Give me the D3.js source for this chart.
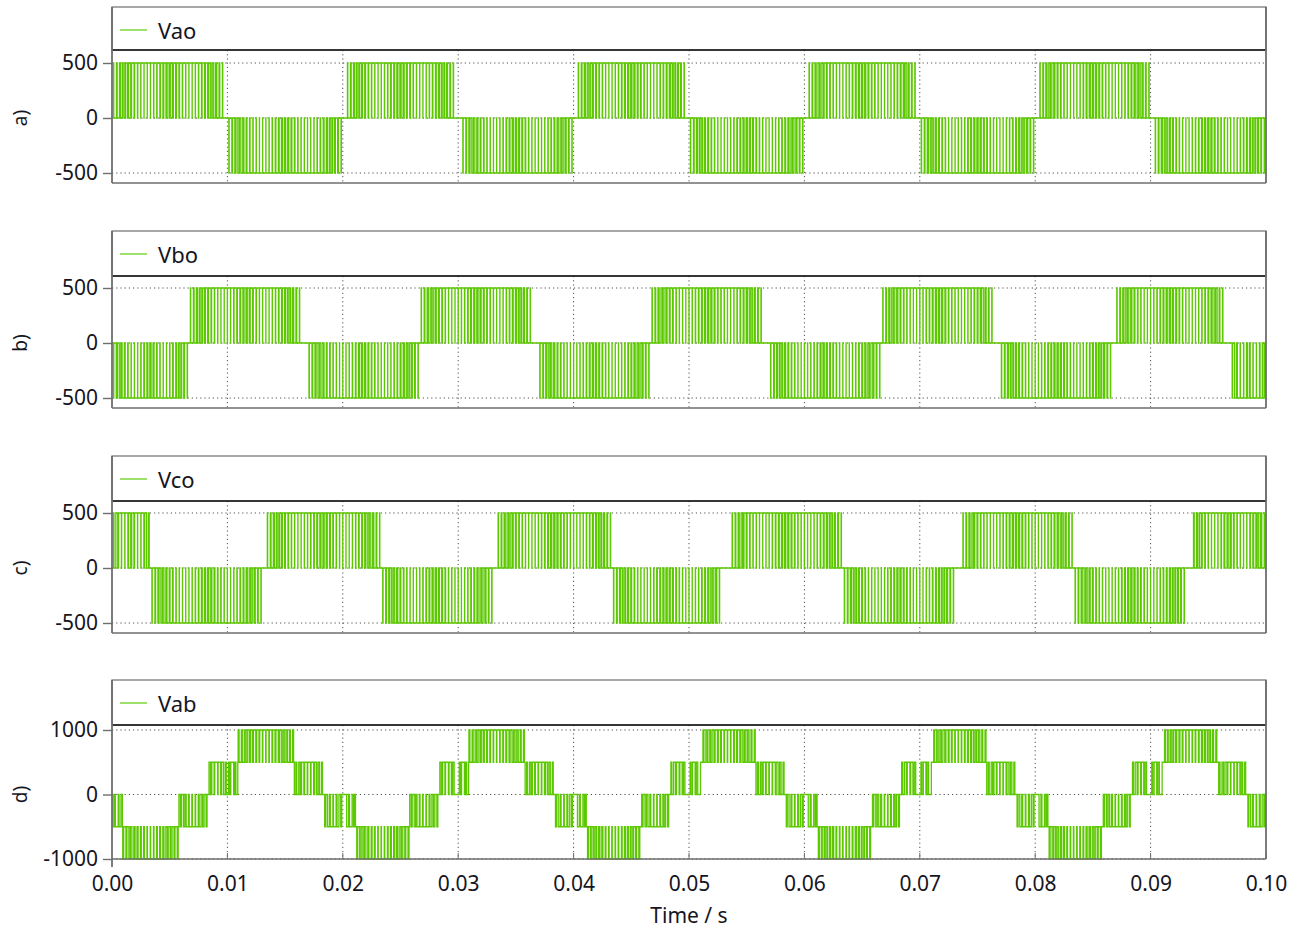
<!DOCTYPE html>
<html>
<head>
<meta charset="utf-8">
<script src="https://cdn.jsdelivr.net/npm/d3@7"></script>
<style>
  html, body { margin: 0; padding: 0; background: #ffffff; }
  svg { display: block; }
  text { font-family: "Noto Sans", "Open Sans", sans-serif; fill: #15151f; }
</style>
</head>
<body>
<svg id="chart" width="1301" height="945"></svg>
<script>
// ---- data -------------------------------------------------------------
const timeTicks = [0, 0.01, 0.02, 0.03, 0.04, 0.05, 0.06, 0.07, 0.08, 0.09, 0.10];
const phaseTicks = [500, 0, -500];
const lineTicks = [1000, 0, -1000];
const panelLetters = ["a)", "b)", "c)", "d)"];
const seriesNames = ["Vao", "Vbo", "Vco", "Vab"];

// carrier frequency of the PWM (Hz)
const switchingFrequency = 3600;

// duty ratio of each carrier slot across one half-cycle of a phase voltage
const phaseDuty = [0.10, 0.22, 0.35, 0.48, 0.60, 0.70, 0.80, 0.87, 0.93, 0.97, 0.99, 0.98,
                   0.96, 0.92, 0.86, 0.78, 0.70, 0.62, 0.62, 0.70, 0.78, 0.86, 0.92, 0.96,
                   0.98, 0.99, 0.97, 0.93, 0.87, 0.80, 0.70, 0.60, 0.48, 0.35, 0.22, 0.10];

// duty ratio of each carrier slot across one step of the line voltage
const lineDuty = [0.30, 0.45, 0.60, 0.72, 0.82, 0.88, 0.82, 0.72, 0.60, 0.45, 0.30];

// phase voltage half-cycles: [start s, end s, level V]
const vaoBlocks = [
  [0.0000, 0.0098, 500], [0.0100, 0.0200, -500], [0.0203, 0.0297, 500], [0.0302, 0.0400, -500],
  [0.0403, 0.0497, 500], [0.0501, 0.0599, -500], [0.0603, 0.0698, 500], [0.0701, 0.0800, -500],
  [0.0803, 0.0899, 500], [0.0902, 0.1000, -500]
];
const vboBlocks = [
  [0.0000, 0.0066, -500], [0.0068, 0.0163, 500], [0.0169, 0.0267, -500], [0.0268, 0.0364, 500],
  [0.0369, 0.0467, -500], [0.0468, 0.0564, 500], [0.0569, 0.0667, -500], [0.0668, 0.0765, 500],
  [0.0770, 0.0867, -500], [0.0869, 0.0965, 500], [0.0970, 0.1000, -500]
];
const vcoBlocks = [
  [0.0000, 0.0033, 500], [0.0034, 0.0131, -500], [0.0134, 0.0232, 500], [0.0233, 0.0330, -500],
  [0.0334, 0.0432, 500], [0.0433, 0.0529, -500], [0.0535, 0.0633, 500], [0.0633, 0.0731, -500],
  [0.0735, 0.0833, 500], [0.0834, 0.0931, -500], [0.0935, 0.1000, 500]
];

// line voltage steps: [start s, end s, base level V, pulse level V]
const vabBlocks = [
  [0.0000, 0.0009, 0, -500], [0.0009, 0.0057, -500, -1000], [0.0058, 0.0083, 0, -500],
  [0.0083, 0.0099, 0, 500], [0.0101, 0.0107, 0, 500], [0.0109, 0.0157, 500, 1000],
  [0.0158, 0.0183, 0, 500], [0.0184, 0.0200, 0, -500], [0.0202, 0.0210, 0, -500],

  [0.0211, 0.0257, -500, -1000], [0.0258, 0.0283, 0, -500], [0.0283, 0.0298, 0, 500],
  [0.0301, 0.0307, 0, 500], [0.0309, 0.0357, 500, 1000], [0.0358, 0.0383, 0, 500],
  [0.0384, 0.0400, 0, -500], [0.0402, 0.0410, 0, -500],

  [0.0411, 0.0458, -500, -1000], [0.0459, 0.0483, 0, -500], [0.0484, 0.0498, 0, 500],
  [0.0501, 0.0508, 0, 500], [0.0510, 0.0557, 500, 1000], [0.0558, 0.0583, 0, 500],
  [0.0584, 0.0600, 0, -500], [0.0602, 0.0610, 0, -500],

  [0.0611, 0.0658, -500, -1000], [0.0659, 0.0683, 0, -500], [0.0684, 0.0698, 0, 500],
  [0.0701, 0.0708, 0, 500], [0.0710, 0.0757, 500, 1000], [0.0758, 0.0783, 0, 500],
  [0.0784, 0.0800, 0, -500], [0.0802, 0.0810, 0, -500],

  [0.0811, 0.0858, -500, -1000], [0.0859, 0.0883, 0, -500], [0.0884, 0.0898, 0, 500],
  [0.0901, 0.0908, 0, 500], [0.0910, 0.0958, 500, 1000], [0.0959, 0.0983, 0, 500],
  [0.0984, 0.1000, 0, -500]
];

// ---- waveform construction -------------------------------------------
const T = 1 / switchingFrequency;
const tEnd = 0.1;

// turn step blocks into a list of [t, v] breakpoints on a common carrier grid
function pwmPoints(blocks, duty, baseOf, pulseOf) {
  const pts = [[0, baseOf(blocks[0])]];
  const nSlots = Math.ceil(tEnd / T);
  let current = null;
  for (let k = 0; k < nSlots; k++) {
    const tc = (k + 0.5) * T;
    const b = blocks.find(bl => tc >= bl[0] && tc < bl[1]);
    if (!b) continue;
    if (b !== current) { pts.push([Math.max(0, b[0]), baseOf(b)]); current = b; }
    const frac = (tc - b[0]) / (b[1] - b[0]);
    const d = duty[Math.min(duty.length - 1, Math.floor(frac * duty.length))];
    const w = d * T;
    pts.push([tc - w / 2, pulseOf(b)]);
    pts.push([tc + w / 2, baseOf(b)]);
  }
  pts.push([tEnd, pts[pts.length - 1][1]]);
  return pts;
}

const waves = [
  pwmPoints(vaoBlocks, phaseDuty, () => 0, b => b[2]),
  pwmPoints(vboBlocks, phaseDuty, () => 0, b => b[2]),
  pwmPoints(vcoBlocks, phaseDuty, () => 0, b => b[2]),
  pwmPoints(vabBlocks, lineDuty, b => b[2], b => b[3])
];

// ---- layout -----------------------------------------------------------
const svg = d3.select("#chart");
const left = 112, right = 1266;
const green = "#5cc800";

const panels = [
  { legendTop: 7,   plotTop: 50,  plotBottom: 183, ticks: phaseTicks, yTop: 63,  yBottom: 173 },
  { legendTop: 231, plotTop: 276, plotBottom: 408, ticks: phaseTicks, yTop: 288, yBottom: 398 },
  { legendTop: 456, plotTop: 501, plotBottom: 633, ticks: phaseTicks, yTop: 513, yBottom: 623 },
  { legendTop: 680, plotTop: 725, plotBottom: 859, ticks: lineTicks,  yTop: 730, yBottom: 859 }
];

const x = d3.scaleLinear().domain([0, 0.1]).range([left, right]);

panels.forEach((p, i) => {
  const g = svg.append("g");
  const yMax = p.ticks[0], yMin = p.ticks[p.ticks.length - 1];
  const y = d3.scaleLinear().domain([yMin, yMax]).range([p.yBottom, p.yTop]);

  // legend box
  g.append("rect")
    .attr("x", left).attr("y", p.legendTop)
    .attr("width", right - left).attr("height", p.plotTop - p.legendTop)
    .attr("fill", "#fff").attr("stroke", "#6e6e6e").attr("stroke-width", 1.2);
  g.append("line")
    .attr("x1", left + 8).attr("x2", left + 35)
    .attr("y1", p.legendTop + 23).attr("y2", p.legendTop + 23)
    .attr("stroke", "#86d84a").attr("stroke-width", 1.6);
  g.append("text")
    .attr("x", left + 46).attr("y", p.legendTop + 23)
    .attr("dominant-baseline", "central")
    .attr("font-size", 22)
    .text(seriesNames[i]);

  // grid
  const grid = g.append("g")
    .attr("stroke", "#505050").attr("stroke-width", 1)
    .attr("stroke-dasharray", "1.2,3");
  grid.selectAll(".vg").data(timeTicks.slice(1, -1)).enter().append("line")
    .attr("x1", d => x(d)).attr("x2", d => x(d))
    .attr("y1", p.plotTop).attr("y2", p.plotBottom);
  grid.selectAll(".hg").data(p.ticks).enter().append("line")
    .attr("x1", left).attr("x2", right)
    .attr("y1", d => y(d)).attr("y2", d => y(d));

  // waveform
  const clipId = "clip" + i;
  svg.append("clipPath").attr("id", clipId).append("rect")
    .attr("x", left).attr("y", p.plotTop)
    .attr("width", right - left).attr("height", p.plotBottom - p.plotTop + 1);
  const line = d3.line()
    .x(d => x(d[0])).y(d => y(d[1]))
    .curve(d3.curveStepAfter);
  g.append("path")
    .attr("clip-path", `url(#${clipId})`)
    .attr("d", line(waves[i]))
    .attr("fill", "none").attr("stroke", green).attr("stroke-width", 1.3);

  // frame
  g.append("line").attr("x1", left).attr("x2", right)
    .attr("y1", p.plotTop).attr("y2", p.plotTop)
    .attr("stroke", "#111").attr("stroke-width", 1.4);
  g.append("line").attr("x1", left).attr("x2", right)
    .attr("y1", p.plotBottom).attr("y2", p.plotBottom)
    .attr("stroke", "#6e6e6e").attr("stroke-width", 1.6);
  g.append("line").attr("x1", left).attr("x2", left)
    .attr("y1", p.legendTop).attr("y2", p.plotBottom + (i === 3 ? 8 : 0))
    .attr("stroke", "#6e6e6e").attr("stroke-width", 1.8);
  g.append("line").attr("x1", right).attr("x2", right)
    .attr("y1", p.legendTop).attr("y2", p.plotBottom)
    .attr("stroke", "#6e6e6e").attr("stroke-width", 1.8);

  // y axis
  const yAxis = d3.axisLeft(y).tickValues(p.ticks).tickSize(9).tickPadding(5)
    .tickFormat(d3.format("d"));
  const ya = g.append("g").attr("transform", `translate(${left},0)`).call(yAxis);
  ya.select(".domain").remove();
  ya.selectAll(".tick line").attr("stroke", "#6e6e6e").attr("stroke-width", 1.4);
  ya.selectAll(".tick text")
    .attr("font-size", 21).attr("font-family", "'Noto Sans', sans-serif")
    .attr("fill", "#15151f").text(d => d < 0 ? "-" + Math.abs(d) : d);

  // panel letter
  g.append("text")
    .attr("transform", `translate(27,${(p.yTop + p.yBottom) / 2}) rotate(-90)`)
    .attr("text-anchor", "middle").attr("font-size", 19)
    .text(panelLetters[i]);

  // x axis on the last panel
  if (i === 3) {
    const xAxis = d3.axisBottom(x).tickValues(timeTicks).tickSize(0).tickPadding(17)
      .tickFormat(d3.format(".2f"));
    const xa = g.append("g").attr("transform", `translate(0,${p.plotBottom})`).call(xAxis);
    xa.select(".domain").remove();
    xa.selectAll(".tick text")
      .attr("font-size", 21).attr("font-family", "'Noto Sans', sans-serif")
      .attr("fill", "#15151f");
    g.selectAll(".xt").data(timeTicks.slice(1)).enter().append("line")
      .attr("x1", d => x(d)).attr("x2", d => x(d))
      .attr("y1", p.plotBottom - 6).attr("y2", p.plotBottom)
      .attr("stroke", "#6e6e6e").attr("stroke-width", 1);
    g.append("text")
      .attr("x", x(0.05)).attr("y", 923)
      .attr("text-anchor", "middle").attr("font-size", 21)
      .text("Time / s");
  }
});
</script>
</body>
</html>
